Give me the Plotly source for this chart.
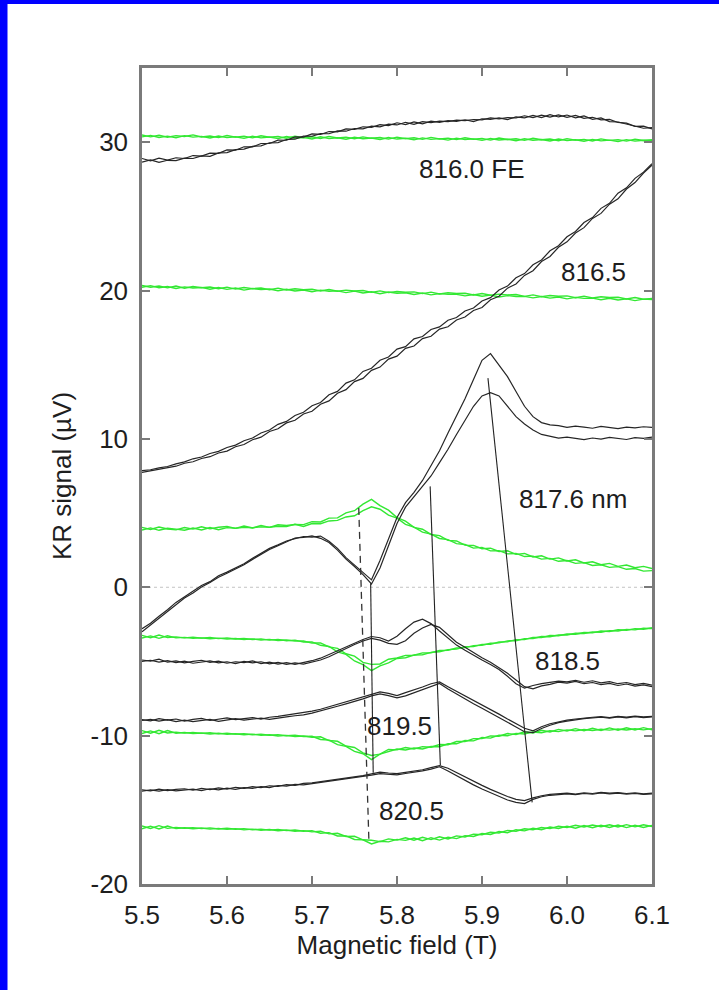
import plotly.graph_objects as go

# Magnetic field grid (T), shared by every sweep
field = [5.50, 5.51, 5.52, 5.53, 5.54, 5.55, 5.56, 5.57, 5.58, 5.59,
         5.60, 5.61, 5.62, 5.63, 5.64, 5.65, 5.66, 5.67, 5.68, 5.69,
         5.70, 5.71, 5.72, 5.73, 5.74, 5.75, 5.76, 5.77, 5.78, 5.79,
         5.80, 5.81, 5.82, 5.83, 5.84, 5.85, 5.86, 5.87, 5.88, 5.89,
         5.90, 5.91, 5.92, 5.93, 5.94, 5.95, 5.96, 5.97, 5.98, 5.99,
         6.00, 6.01, 6.02, 6.03, 6.04, 6.05, 6.06, 6.07, 6.08, 6.09, 6.10]

# ---- green reference sweeps (up / down) ----
green_1_up = [30.48, 30.36, 30.47, 30.33, 30.44, 30.38, 30.49, 30.35, 30.42, 30.31,
              30.45, 30.34, 30.40, 30.29, 30.43, 30.33, 30.38, 30.27, 30.41, 30.30,
              30.37, 30.25, 30.39, 30.28, 30.34, 30.23, 30.36, 30.26, 30.31, 30.21,
              30.34, 30.24, 30.30, 30.19, 30.32, 30.22, 30.27, 30.17, 30.30, 30.20,
              30.25, 30.14, 30.28, 30.18, 30.23, 30.12, 30.26, 30.16, 30.21, 30.10,
              30.24, 30.14, 30.19, 30.08, 30.22, 30.12, 30.17, 30.07, 30.20, 30.11, 30.16]
green_1_dn = [30.36, 30.46, 30.32, 30.41, 30.30, 30.44, 30.34, 30.39, 30.28, 30.42,
              30.31, 30.37, 30.26, 30.40, 30.29, 30.35, 30.24, 30.38, 30.27, 30.32,
              30.22, 30.36, 30.25, 30.30, 30.20, 30.33, 30.23, 30.28, 30.18, 30.31,
              30.21, 30.26, 30.16, 30.29, 30.19, 30.24, 30.14, 30.27, 30.17, 30.22,
              30.12, 30.25, 30.15, 30.20, 30.10, 30.23, 30.13, 30.18, 30.08, 30.21,
              30.11, 30.16, 30.06, 30.19, 30.09, 30.14, 30.05, 30.17, 30.07, 30.13, 30.10]

green_2_up = [20.34, 20.22, 20.31, 20.18, 20.30, 20.16, 20.27, 20.19, 20.24, 20.12,
              20.23, 20.10, 20.20, 20.13, 20.17, 20.05, 20.16, 20.04, 20.12, 20.06,
              20.09, 19.97, 20.07, 19.95, 20.03, 19.98, 20.00, 19.88, 19.98, 19.86,
              19.94, 19.89, 19.91, 19.79, 19.89, 19.77, 19.85, 19.80, 19.82, 19.70,
              19.80, 19.68, 19.76, 19.71, 19.73, 19.61, 19.71, 19.59, 19.67, 19.62,
              19.64, 19.52, 19.62, 19.50, 19.58, 19.53, 19.55, 19.43, 19.53, 19.41, 19.47]
green_2_dn = [20.22, 20.33, 20.19, 20.27, 20.14, 20.25, 20.17, 20.21, 20.09, 20.20,
              20.08, 20.17, 20.03, 20.14, 20.06, 20.10, 19.99, 20.09, 19.97, 20.04,
              19.92, 20.03, 19.95, 19.98, 19.86, 19.96, 19.84, 19.92, 19.79, 19.90,
              19.82, 19.85, 19.73, 19.83, 19.71, 19.79, 19.74, 19.74, 19.64, 19.73,
              19.62, 19.69, 19.57, 19.66, 19.60, 19.61, 19.51, 19.60, 19.49, 19.56,
              19.44, 19.54, 19.47, 19.49, 19.38, 19.48, 19.36, 19.44, 19.32, 19.42, 19.40]

green_3_up = [4.04, 3.90, 4.06, 3.93, 3.87, 4.03, 3.92, 4.08, 3.94, 4.05,
              4.10, 3.97, 4.13, 4.00, 4.16, 4.04, 4.21, 4.16, 4.23, 4.22,
              4.42, 4.40, 4.66, 4.68, 5.01, 5.16, 5.60, 5.92, 5.50, 5.20,
              4.70, 4.46, 4.04, 3.91, 3.56, 3.48, 3.16, 3.12, 2.84, 2.82,
              2.60, 2.64, 2.41, 2.46, 2.22, 2.28, 2.04, 2.12, 1.90, 1.98,
              1.77, 1.85, 1.64, 1.72, 1.52, 1.61, 1.41, 1.50, 1.32, 1.41, 1.26]
green_3_dn = [3.86, 4.00, 3.84, 3.98, 3.92, 3.84, 3.99, 3.86, 4.03, 3.88,
              4.02, 3.98, 4.04, 4.01, 4.07, 4.05, 4.11, 4.09, 4.25, 4.10,
              4.30, 4.28, 4.47, 4.51, 4.74, 4.82, 5.16, 5.42, 5.26, 4.86,
              4.66, 4.24, 4.06, 3.72, 3.58, 3.29, 3.21, 2.94, 2.88, 2.64,
              2.69, 2.45, 2.47, 2.25, 2.28, 2.07, 2.10, 1.90, 1.95, 1.75,
              1.80, 1.61, 1.66, 1.47, 1.52, 1.34, 1.39, 1.21, 1.26, 1.09, 1.12]

green_4_up = [-3.24, -3.40, -3.22, -3.39, -3.34, -3.41, -3.36, -3.43, -3.39, -3.46,
              -3.41, -3.49, -3.45, -3.52, -3.48, -3.56, -3.51, -3.60, -3.56, -3.69,
              -3.68, -3.91, -3.99, -4.35, -4.52, -4.97, -5.22, -5.62, -5.30, -5.10,
              -4.80, -4.75, -4.57, -4.55, -4.39, -4.35, -4.20, -4.17, -4.01, -4.00,
              -3.85, -3.85, -3.69, -3.67, -3.53, -3.52, -3.38, -3.39, -3.25, -3.27,
              -3.15, -3.17, -3.05, -3.07, -2.95, -2.98, -2.86, -2.90, -2.79, -2.83, -2.72]
green_4_dn = [-3.42, -3.28, -3.44, -3.27, -3.41, -3.38, -3.44, -3.41, -3.47, -3.43,
              -3.49, -3.45, -3.52, -3.48, -3.55, -3.51, -3.59, -3.55, -3.63, -3.62,
              -3.76, -3.75, -4.02, -4.12, -4.48, -4.64, -5.06, -5.20, -5.17, -4.85,
              -4.77, -4.59, -4.58, -4.42, -4.41, -4.26, -4.24, -4.09, -4.07, -3.93,
              -3.91, -3.77, -3.75, -3.61, -3.60, -3.46, -3.45, -3.32, -3.33, -3.21,
              -3.22, -3.10, -3.12, -3.01, -3.03, -2.92, -2.95, -2.84, -2.87, -2.76, -2.79]

green_5_up = [-9.66, -9.84, -9.64, -9.82, -9.76, -9.83, -9.78, -9.85, -9.81, -9.88,
              -9.83, -9.90, -9.87, -9.94, -9.90, -9.97, -9.93, -10.01, -9.97, -10.06,
              -10.04, -10.26, -10.30, -10.61, -10.72, -11.06, -11.22, -11.62, -11.25, -11.05,
              -10.90, -10.97, -10.83, -10.90, -10.73, -10.75, -10.55, -10.55, -10.33, -10.35,
              -10.13, -10.17, -9.97, -10.01, -9.85, -9.89, -9.75, -9.80, -9.67, -9.73,
              -9.61, -9.68, -9.59, -9.65, -9.57, -9.63, -9.55, -9.62, -9.54, -9.61, -9.53]
green_5_dn = [-9.86, -9.68, -9.87, -9.66, -9.84, -9.79, -9.86, -9.82, -9.89, -9.84,
              -9.91, -9.87, -9.94, -9.90, -9.98, -9.94, -10.02, -9.98, -10.07, -10.02,
              -10.11, -10.08, -10.33, -10.38, -10.70, -10.80, -11.16, -11.34, -11.25, -10.93,
              -10.96, -10.80, -10.90, -10.74, -10.78, -10.60, -10.61, -10.40, -10.40, -10.20,
              -10.20, -10.02, -10.04, -9.86, -9.92, -9.74, -9.82, -9.64, -9.75, -9.58,
              -9.69, -9.53, -9.67, -9.50, -9.65, -9.48, -9.63, -9.47, -9.62, -9.46, -9.60]

green_6_up = [-16.09, -16.26, -16.07, -16.25, -16.18, -16.24, -16.20, -16.27, -16.22, -16.29,
              -16.24, -16.31, -16.27, -16.34, -16.30, -16.37, -16.32, -16.40, -16.36, -16.44,
              -16.40, -16.58, -16.54, -16.76, -16.76, -17.00, -17.02, -17.30, -17.12, -17.16,
              -16.99, -17.06, -16.90, -17.08, -16.88, -17.04, -16.84, -16.94, -16.74, -16.80,
              -16.60, -16.66, -16.46, -16.54, -16.34, -16.42, -16.24, -16.34, -16.16, -16.26,
              -16.10, -16.24, -16.06, -16.21, -16.04, -16.19, -16.03, -16.20, -16.04, -16.19, -16.05]
green_6_dn = [-16.28, -16.10, -16.29, -16.09, -16.27, -16.21, -16.28, -16.23, -16.30, -16.25,
              -16.32, -16.27, -16.35, -16.30, -16.38, -16.33, -16.41, -16.36, -16.45, -16.40,
              -16.49, -16.44, -16.62, -16.58, -16.80, -16.78, -17.02, -17.05, -17.14, -16.96,
              -17.04, -16.88, -17.05, -16.85, -17.01, -16.82, -16.96, -16.76, -16.83, -16.64,
              -16.68, -16.51, -16.56, -16.39, -16.44, -16.28, -16.34, -16.19, -16.27, -16.11,
              -16.19, -16.04, -16.16, -16.02, -16.14, -16.01, -16.16, -16.00, -16.15, -16.01, -16.13]

# ---- Kerr rotation sweeps (up / down) at each wavelength ----
kr_8160_up = [28.66, 28.80, 28.64, 28.78, 28.76, 28.92, 28.90, 29.08, 29.05, 29.28,
              29.30, 29.50, 29.53, 29.72, 29.75, 29.96, 29.97, 30.18, 30.20, 30.41,
              30.40, 30.58, 30.57, 30.76, 30.74, 30.92, 30.90, 31.08, 31.03, 31.21,
              31.16, 31.34, 31.20, 31.39, 31.32, 31.42, 31.39, 31.48, 31.45, 31.53,
              31.50, 31.64, 31.57, 31.66, 31.63, 31.78, 31.65, 31.82, 31.69, 31.84,
              31.67, 31.80, 31.61, 31.68, 31.50, 31.54, 31.33, 31.28, 31.07, 31.08, 30.90]
kr_8160_dn = [28.90, 28.74, 28.93, 28.79, 28.95, 28.90, 29.10, 29.06, 29.26, 29.25,
              29.48, 29.46, 29.69, 29.68, 29.91, 29.91, 30.14, 30.13, 30.36, 30.34,
              30.56, 30.52, 30.72, 30.69, 30.89, 30.86, 31.04, 31.00, 31.18, 31.12,
              31.31, 31.18, 31.37, 31.24, 31.42, 31.34, 31.45, 31.40, 31.51, 31.39,
              31.58, 31.54, 31.64, 31.52, 31.70, 31.64, 31.80, 31.66, 31.85, 31.70,
              31.83, 31.64, 31.77, 31.54, 31.64, 31.39, 31.36, 31.22, 31.11, 30.94, 30.98]

kr_8165_up = [7.86, 7.92, 8.05, 8.14, 8.32, 8.45, 8.66, 8.78, 9.02, 9.16,
              9.42, 9.58, 9.88, 10.06, 10.40, 10.60, 10.98, 11.18, 11.58, 11.80,
              12.24, 12.45, 12.98, 13.20, 13.76, 13.98, 14.55, 14.76, 15.30, 15.52,
              16.05, 16.22, 16.74, 16.90, 17.38, 17.55, 18.00, 18.18, 18.62, 18.82,
              19.30, 19.52, 20.04, 20.30, 20.86, 21.14, 21.74, 22.06, 22.68, 23.02,
              23.62, 23.98, 24.58, 24.92, 25.54, 25.88, 26.56, 26.92, 27.56, 27.98, 28.55]
kr_8165_dn = [7.74, 7.84, 7.91, 8.06, 8.16, 8.36, 8.46, 8.68, 8.80, 9.05,
              9.18, 9.47, 9.62, 9.94, 10.12, 10.50, 10.68, 11.08, 11.26, 11.68,
              11.86, 12.34, 12.56, 13.08, 13.32, 13.86, 14.08, 14.62, 14.84, 15.38,
              15.58, 16.10, 16.26, 16.76, 16.92, 17.40, 17.56, 18.02, 18.22, 18.66,
              18.86, 19.38, 19.62, 20.16, 20.44, 21.02, 21.34, 21.96, 22.30, 22.92,
              23.28, 23.88, 24.24, 24.86, 25.20, 25.82, 26.18, 26.84, 27.28, 27.92, 28.45]

kr_8176_up = [-2.80, -2.42, -1.95, -1.52, -1.02, -0.62, -0.28, 0.12, 0.38, 0.78,
              1.02, 1.30, 1.58, 1.95, 2.26, 2.62, 2.86, 3.12, 3.28, 3.42,
              3.38, 3.45, 3.10, 2.62, 2.00, 1.52, 0.98, 0.50, 1.80, 3.30,
              4.70, 5.70, 6.40, 7.20, 8.20, 9.20, 10.40, 11.50, 12.70, 14.00,
              15.30, 15.75, 15.00, 14.20, 13.20, 12.20, 11.50, 11.10, 10.95, 10.90,
              10.78, 10.86, 10.80, 10.72, 10.84, 10.76, 10.70, 10.80, 10.74, 10.82, 10.78]
kr_8176_dn = [-3.00, -2.55, -2.08, -1.60, -1.15, -0.72, -0.38, 0.02, 0.32, 0.68,
              0.95, 1.24, 1.52, 1.88, 2.20, 2.55, 2.80, 3.05, 3.32, 3.36,
              3.46, 3.30, 3.02, 2.50, 1.90, 1.40, 0.85, 0.22, 1.30, 2.80,
              4.30, 5.40, 6.10, 6.80, 7.50, 8.40, 9.30, 10.30, 11.30, 12.20,
              12.90, 13.12, 12.90, 12.20, 11.50, 11.00, 10.60, 10.30, 10.15, 10.05,
              10.12, 10.02, 9.95, 10.06, 9.98, 10.10, 10.02, 9.96, 10.08, 10.04, 10.12]

kr_8185_up = [-4.90, -4.98, -4.85, -5.05, -4.96, -5.10, -5.00, -4.92, -5.06, -4.98,
              -5.12, -5.02, -5.08, -4.96, -5.14, -5.04, -5.18, -5.08, -5.20, -5.10,
              -4.95, -4.78, -4.52, -4.28, -4.02, -3.78, -3.52, -3.32, -3.40, -3.62,
              -3.30, -2.80, -2.35, -2.15, -2.45, -2.95, -3.45, -3.90, -4.25, -4.60,
              -4.90, -5.20, -5.55, -6.00, -6.50, -6.80, -6.62, -6.50, -6.42, -6.32,
              -6.38, -6.28, -6.40, -6.30, -6.44, -6.36, -6.50, -6.42, -6.56, -6.48, -6.60]
kr_8185_dn = [-5.00, -4.92, -5.04, -4.94, -5.08, -4.98, -5.12, -5.04, -4.96, -5.10,
              -5.02, -5.14, -5.00, -5.10, -5.02, -5.16, -5.06, -5.20, -5.10, -5.18,
              -5.05, -4.90, -4.68, -4.40, -4.12, -3.86, -3.62, -3.45, -3.56, -3.78,
              -3.85, -3.60, -3.10, -2.75, -2.50, -2.70, -3.20, -3.70, -4.05, -4.42,
              -4.75, -5.05, -5.40, -5.80, -6.25, -6.70, -6.85, -6.65, -6.55, -6.40,
              -6.46, -6.35, -6.50, -6.42, -6.56, -6.48, -6.62, -6.52, -6.66, -6.58, -6.70]

kr_8195_up = [-8.92, -9.00, -8.86, -8.96, -8.88, -9.02, -8.90, -8.84, -8.98, -8.88,
              -8.80, -8.92, -8.84, -8.78, -8.88, -8.76, -8.70, -8.62, -8.55, -8.48,
              -8.35, -8.22, -8.05, -7.92, -7.75, -7.58, -7.40, -7.20, -7.05, -7.15,
              -7.30, -7.10, -6.92, -6.72, -6.50, -6.38, -6.70, -7.00, -7.30, -7.62,
              -7.92, -8.22, -8.55, -8.88, -9.20, -9.50, -9.68, -9.40, -9.20, -9.05,
              -8.95, -8.88, -8.80, -8.76, -8.72, -8.78, -8.70, -8.75, -8.68, -8.74, -8.70]
kr_8195_dn = [-8.98, -8.90, -9.02, -8.92, -9.05, -8.95, -9.06, -8.98, -8.90, -9.04,
              -8.94, -8.86, -8.96, -8.90, -8.82, -8.90, -8.80, -8.74, -8.66, -8.60,
              -8.48, -8.34, -8.18, -8.02, -7.86, -7.70, -7.52, -7.32, -7.18, -7.30,
              -7.45, -7.32, -7.10, -6.92, -6.70, -6.48, -6.85, -7.20, -7.55, -7.85,
              -8.15, -8.45, -8.78, -9.10, -9.42, -9.74, -9.80, -9.52, -9.30, -9.12,
              -9.02, -8.92, -8.86, -8.80, -8.76, -8.82, -8.74, -8.80, -8.72, -8.78, -8.74]

kr_8205_up = [-13.65, -13.72, -13.60, -13.70, -13.62, -13.58, -13.68, -13.55, -13.64, -13.52,
              -13.60, -13.48, -13.55, -13.44, -13.50, -13.38, -13.42, -13.30, -13.35, -13.22,
              -13.18, -13.10, -13.04, -12.96, -12.88, -12.80, -12.70, -12.58, -12.46, -12.52,
              -12.56, -12.48, -12.40, -12.30, -12.16, -12.02, -12.20, -12.50, -12.80, -13.08,
              -13.35, -13.62, -13.88, -14.10, -14.30, -14.38, -14.20, -14.05, -13.96, -13.92,
              -13.88, -13.94, -13.86, -13.90, -13.82, -13.88, -13.84, -13.90, -13.86, -13.92, -13.88]
kr_8205_dn = [-13.75, -13.66, -13.74, -13.64, -13.72, -13.68, -13.60, -13.70, -13.58, -13.66,
              -13.54, -13.62, -13.50, -13.56, -13.44, -13.50, -13.36, -13.40, -13.28, -13.32,
              -13.24, -13.16, -13.10, -13.02, -12.94, -12.85, -12.76, -12.66, -12.56, -12.60,
              -12.64, -12.55, -12.48, -12.38, -12.26, -12.10, -12.38, -12.70, -13.02, -13.32,
              -13.60, -13.86, -14.12, -14.34, -14.50, -14.58, -14.30, -14.12, -14.02, -13.96,
              -13.92, -13.98, -13.90, -13.95, -13.86, -13.92, -13.88, -13.94, -13.90, -13.96, -13.92]

# ---- guide lines tracking the resonance positions ----
guide_dashed_x = [5.755, 5.767]
guide_dashed_y = [5.35, -17.2]
guide_1_x = [5.769, 5.772]
guide_1_y = [0.27, -12.5]
guide_2_x = [5.839, 5.851]
guide_2_y = [6.8, -12.0]
guide_3_x = [5.907, 5.959]
guide_3_y = [14.1, -14.5]

# ---- curve labels ----
label_text = ["816.0 FE", "816.5", "817.6 nm", "818.5", "819.5", "820.5"]
label_x = [5.823, 5.990, 5.941, 5.960, 5.762, 5.777]
label_y = [28.2, 21.25, 5.95, -4.95, -9.35, -15.1]

# ---- axis ticks ----
x_ticks = [5.5, 5.6, 5.7, 5.8, 5.9, 6.0, 6.1]
x_tick_text = ["5.5", "5.6", "5.7", "5.8", "5.9", "6.0", "6.1"]
y_ticks = [-20, -10, 0, 10, 20, 30]
y_tick_text = ["-20", "-10", "0", "10", "20", "30"]

GREEN = "#33e833"
BLACK = "#262626"
AXIS = "#7a7a7a"
FONT = "Liberation Sans, Arial, Helvetica, sans-serif"
W, H = 719, 990
ML, MR, MT, MB = 142, 67, 68, 106

fig = go.Figure()

green_sweeps = [green_1_up, green_1_dn, green_2_up, green_2_dn, green_3_up, green_3_dn,
                green_4_up, green_4_dn, green_5_up, green_5_dn, green_6_up, green_6_dn]
kr_sweeps = [kr_8160_up, kr_8160_dn, kr_8165_up, kr_8165_dn, kr_8176_up, kr_8176_dn,
             kr_8185_up, kr_8185_dn, kr_8195_up, kr_8195_dn, kr_8205_up, kr_8205_dn]

for ys in green_sweeps:
    fig.add_trace(go.Scatter(x=field, y=ys, mode="lines",
                             line=dict(color=GREEN, width=1.4), hoverinfo="skip"))
for ys in kr_sweeps:
    fig.add_trace(go.Scatter(x=field, y=ys, mode="lines",
                             line=dict(color=BLACK, width=1.2), hoverinfo="skip"))

fig.add_trace(go.Scatter(x=guide_dashed_x, y=guide_dashed_y, mode="lines",
                         line=dict(color="#333333", width=1.3, dash="7px,5px"), hoverinfo="skip"))
for gx, gy in [(guide_1_x, guide_1_y), (guide_2_x, guide_2_y), (guide_3_x, guide_3_y)]:
    fig.add_trace(go.Scatter(x=gx, y=gy, mode="lines",
                             line=dict(color="#222222", width=1.1), hoverinfo="skip"))

for t, lx, ly in zip(label_text, label_x, label_y):
    fig.add_annotation(x=lx, y=ly, text=t, showarrow=False, xanchor="left", yanchor="middle",
                       font=dict(family=FONT, size=26, color="#1e1e1e"))

# dotted zero reference
fig.add_shape(type="line", xref="x", yref="y", x0=x_ticks[0], x1=x_ticks[-1], y0=0, y1=0,
              line=dict(color="#c4c4c4", width=1, dash="dot"), layer="below")

# blue frame strips along the left and top edges of the page
pw = W - ML - MR
ph = H - MT - MB
fig.add_shape(type="rect", xref="paper", yref="paper", layer="above",
              x0=-ML / pw, x1=(7.5 - ML) / pw, y0=-MB / ph - 0.01, y1=1 + MT / ph + 0.01,
              fillcolor="#0000ff", line=dict(width=0))
fig.add_shape(type="rect", xref="paper", yref="paper", layer="above",
              x0=-ML / pw, x1=1 + MR / pw + 0.01, y0=1 + (MT - 4) / ph, y1=1 + MT / ph + 0.01,
              fillcolor="#0000ff", line=dict(width=0))

axis_common = dict(showline=True, linecolor=AXIS, linewidth=2.5, mirror="ticks",
                   ticks="inside", ticklen=8, tickwidth=1.5, tickcolor=AXIS,
                   showgrid=False, zeroline=False,
                   tickfont=dict(family=FONT, size=26, color="#1e1e1e"))

fig.update_xaxes(range=[5.5, 6.1], tickvals=x_ticks, ticktext=x_tick_text,
                 ticklabelstandoff=6,
                 title=dict(text="Magnetic field (T)", standoff=6,
                            font=dict(family=FONT, size=26, color="#1e1e1e")),
                 **axis_common)
fig.update_yaxes(range=[-20, 35], tickvals=y_ticks, ticktext=y_tick_text,
                 ticklabelstandoff=6,
                 title=dict(text="KR signal (µV)", standoff=12,
                            font=dict(family=FONT, size=26, color="#1e1e1e")),
                 **axis_common)

fig.update_layout(width=W, height=H, showlegend=False,
                  margin=dict(l=ML, r=MR, t=MT, b=MB, autoexpand=False),
                  paper_bgcolor="white", plot_bgcolor="white")

fig.write_html("out.html")
